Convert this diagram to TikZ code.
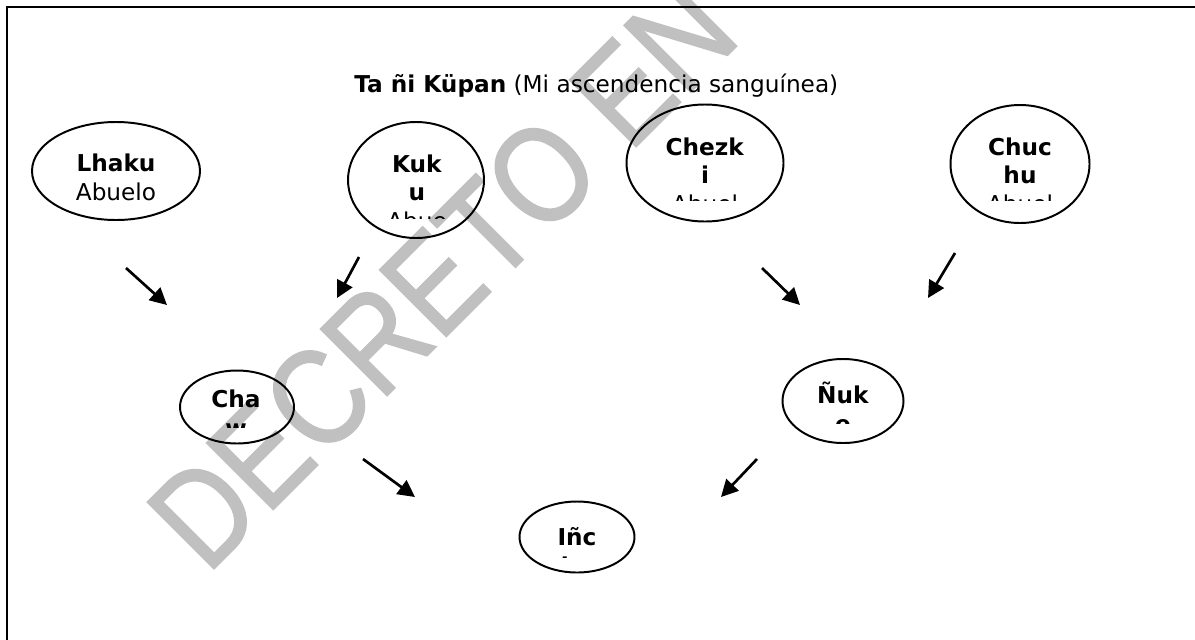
\documentclass[tikz,border=0pt]{standalone}
\usepackage{graphicx}
\usepackage{fontspec}
\setmainfont{DejaVu Sans}
\newfontfamily\wmfont[FakeBold=1.5]{Liberation Sans}
\usetikzlibrary{arrows.meta,shapes.geometric}
\definecolor{marcaagua}{RGB}{192,192,192}
\newlength\px
\setlength\px{0.025cm}

\begin{document}
\begin{tikzpicture}[x=1\px, y=-1\px,
  persona/.style={draw, ellipse, line width=1.4pt, inner sep=0pt},
  nombre/.style={align=center, inner sep=0pt, anchor=base, font=\fontsize{16.5pt}{20.25pt}\selectfont},
  flecha/.style={-{Triangle[length=12pt,width=12pt]}, line width=1.9pt}]
\clip (0,0) rectangle (1195,639);

% marca de agua
\node[text=marcaagua, font=\wmfont\fontsize{97pt}{97pt}\selectfont, rotate=45] (marca) at (442,274) {\scalebox{0.85}[1]{DECRETO EN}};

% marco y titulo
\draw[line width=1.6pt] (1200,7) -- (7,7) -- (7,650);
\node[nombre, anchor=base west] (titulo) at (354,92) {\textbf{Ta ñi Küpan} (Mi ascendencia sanguínea)};

% abuelos
\node[persona, minimum width=168\px, minimum height=98\px] (lhaku) at (116,171) {};
\node[nombre] (lhaku-t) at (116,200) {\textbf{Lhaku}\\Abuelo};

\node[persona, minimum width=136\px, minimum height=116\px] (kuku) at (416,180) {};
\begin{scope}
\clip (356,110) rectangle (476,218);
\node[nombre] (kuku-t) at (417,229) {\textbf{Kuk}\\\textbf{u}\\Abue};
\end{scope}

\node[persona, minimum width=157\px, minimum height=117\px] (chezki) at (705,163) {};
\begin{scope}
\clip (635,110) rectangle (775,200);
\node[nombre] (chezki-t) at (705,212) {\textbf{Chezk}\\\textbf{i}\\Abuel};
\end{scope}

\node[persona, minimum width=139\px, minimum height=118\px] (chuchu) at (1020,164) {};
\begin{scope}
\clip (955,110) rectangle (1085,200);
\node[nombre] (chuchu-t) at (1020,212) {\textbf{Chuc}\\\textbf{hu}\\Abuel};
\end{scope}

% padres
\node[persona, minimum width=114\px, minimum height=73\px] (cha) at (237,407) {};
\begin{scope}
\clip (185,375) rectangle (290,427);
\node[nombre] (cha-t) at (236,436) {\textbf{Cha}\\\textbf{w}};
\end{scope}

\node[persona, minimum width=121\px, minimum height=84\px] (nuke) at (843,401) {};
\begin{scope}
\clip (788,365) rectangle (898,423);
\node[nombre] (nuke-t) at (843,432) {\textbf{Ñuk}\\\textbf{e}};
\end{scope}

% yo
\node[persona, minimum width=115\px, minimum height=71\px] (inche) at (577,537) {};
\begin{scope}
\clip (525,505) rectangle (630,557);
\node[nombre] (inche-t) at (577,574) {\textbf{Iñc}\\\textbf{he}};
\end{scope}

% flechas
\coordinate (f1a) at (126,268); \coordinate (f1b) at (167,305);
\coordinate (f2a) at (359,257); \coordinate (f2b) at (337,298);
\coordinate (f3a) at (762,268); \coordinate (f3b) at (800,305);
\coordinate (f4a) at (955,253); \coordinate (f4b) at (928,298);
\coordinate (f5a) at (363,459); \coordinate (f5b) at (415,497);
\coordinate (f6a) at (757,459); \coordinate (f6b) at (721,497);
\draw[flecha] (f1a) -- (f1b);
\draw[flecha] (f2a) -- (f2b);
\draw[flecha] (f3a) -- (f3b);
\draw[flecha] (f4a) -- (f4b);
\draw[flecha] (f5a) -- (f5b);
\draw[flecha] (f6a) -- (f6b);
\end{tikzpicture}
\end{document}
